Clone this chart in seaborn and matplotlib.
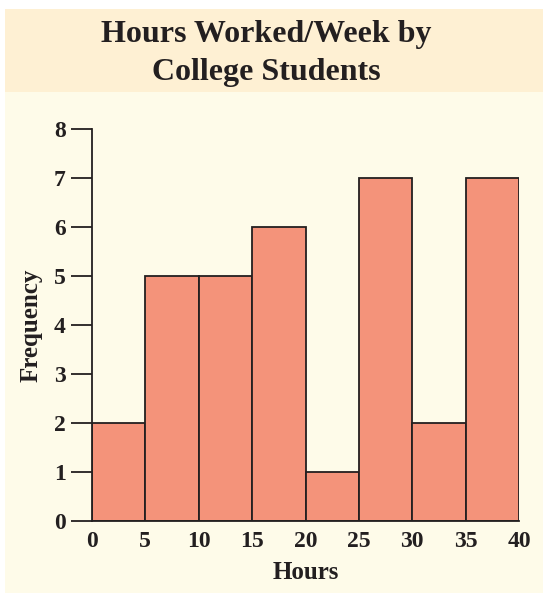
import numpy as np
import pandas as pd
import matplotlib
matplotlib.use("Agg")
import matplotlib.pyplot as plt
from matplotlib.patches import Rectangle
import seaborn as sns

# Frequency table: class edges (hours) and counts per class
bin_edges = [0, 5, 10, 15, 20, 25, 30, 35, 40]
frequencies = [2, 5, 5, 6, 1, 7, 2, 7]
x_ticks = [0, 5, 10, 15, 20, 25, 30, 35, 40]
y_ticks = [0, 1, 2, 3, 4, 5, 6, 7, 8]

title_lines = ["Hours Worked/Week by", "College Students"]
x_label = "Hours"
y_label = "Frequency"

band_color = "#FEF0D3"
panel_color = "#FEFBE9"
bar_color = "#F4937A"
ink = "#231F20"

sns.set_theme(style="ticks")
plt.rcParams["font.family"] = ["Liberation Serif", "DejaVu Serif"]
plt.rcParams["font.weight"] = "bold"

W, H = 543, 594
fig = plt.figure(figsize=(W / 100, H / 100), dpi=100)
fig.patch.set_facecolor("white")

# Background panels: title band and plot panel
fig.patches.append(Rectangle((5 / W, 1 - 92 / H), 1 - 5 / W, 83 / H,
                             transform=fig.transFigure, facecolor=band_color,
                             edgecolor="none", zorder=-10))
fig.patches.append(Rectangle((5 / W, 1 - 593 / H), 1 - 5 / W, 501 / H,
                             transform=fig.transFigure, facecolor=panel_color,
                             edgecolor="none", zorder=-10))

for line, base in zip(title_lines, [42, 80]):
    fig.text(266 / W, 1 - base / H, line, ha="center", va="baseline",
             fontsize=23, fontweight="bold", color=ink)

ax = fig.add_axes([92 / W, 1 - 521 / H, (519 - 92) / W, (521 - 129) / H])
ax.set_facecolor("none")
ax.set_zorder(5)

df = pd.DataFrame({
    "midpoint": [(a + b) / 2 for a, b in zip(bin_edges[:-1], bin_edges[1:])],
    "count": frequencies,
})
sns.histplot(data=df, x="midpoint", weights="count", bins=bin_edges,
             color=bar_color, alpha=1, edgecolor=ink, linewidth=1.3, ax=ax)

ax.set_xlim(0, 40)
ax.set_ylim(0, 8)
ax.set_xticks(x_ticks)
ax.set_yticks(y_ticks)
ax.set_xticklabels([str(t) for t in x_ticks], fontsize=17, fontweight="bold", color=ink)
ax.set_yticklabels([str(t) for t in y_ticks], fontsize=17, fontweight="bold", color=ink)
ax.tick_params(axis="y", length=15, width=1.3, color=ink, pad=4)
ax.tick_params(axis="x", length=0, pad=7)
for side in ["top", "right"]:
    ax.spines[side].set_visible(False)
for side in ["left", "bottom"]:
    ax.spines[side].set_color(ink)
    ax.spines[side].set_linewidth(1.3)

ax.set_xlabel(x_label, fontsize=18, fontweight="bold", color=ink, labelpad=7)
ax.set_ylabel(y_label, fontsize=18, fontweight="bold", color=ink, labelpad=8)

fig.savefig("out.png", dpi=100)
